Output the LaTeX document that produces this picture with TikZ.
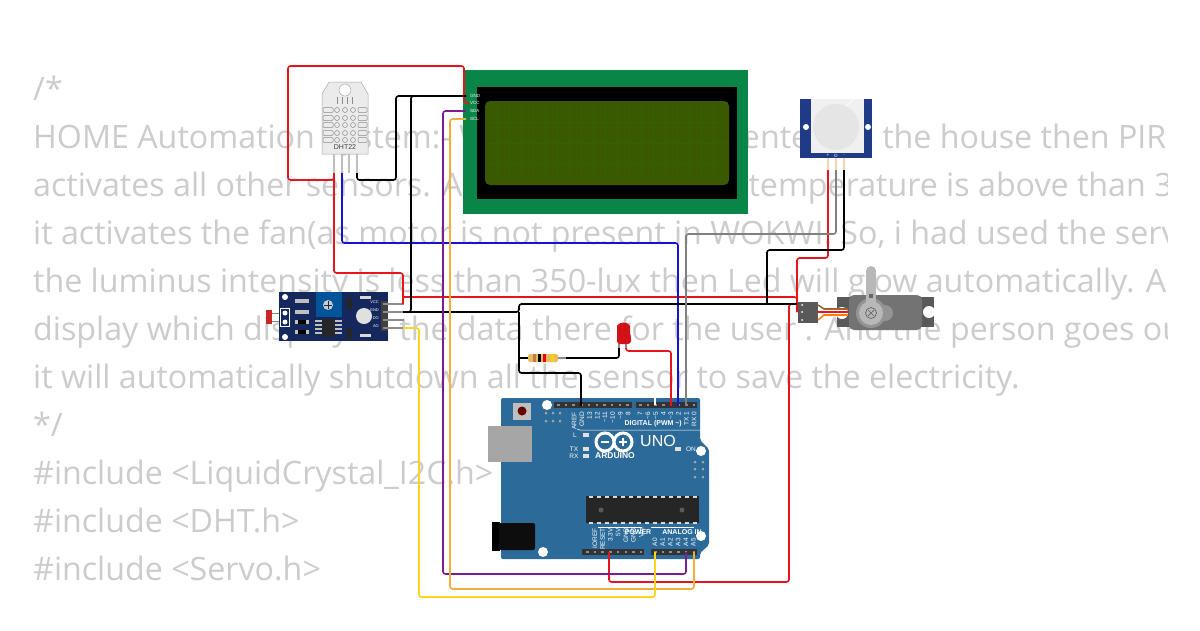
\documentclass[tikz,border=0pt]{standalone}
\usepackage{fontspec}
\setmainfont{Open Sans}
\newfontfamily\boardfont{Liberation Sans}
\definecolor{codegray}{HTML}{CCCCCC}
\definecolor{unoblue}{HTML}{2B6A99}
\definecolor{lcdgreen}{HTML}{0A8548}
\definecolor{lcdlime}{HTML}{3B5A00}
\definecolor{pirblue}{HTML}{1F3A87}
\definecolor{ldrblue}{HTML}{14285E}
\definecolor{wirered}{HTML}{E8141C}
\definecolor{wireblue}{HTML}{1414D0}
\definecolor{wirepurple}{HTML}{7A1E8C}
\definecolor{wireorange}{HTML}{F2AE3A}
\definecolor{wireyellow}{HTML}{FFD420}
\tikzset{
  codeline/.style = {anchor=base west, inner sep=0pt, text=codegray,
    font=\fontsize{32.2}{32.2}\selectfont},
  wire/.style = {line width=1.6pt, rounded corners=2.5pt},
  header/.style = {fill=black!80, draw=none},
  leg/.style = {line width=1.6pt, draw=black!45},
  hole/.style = {circle, fill=white, inner sep=0pt, minimum size=#1},
  boardlabel/.style = {text=white, inner sep=0pt,
    font=\boardfont\fontsize{6.5}{6.5}\selectfont},
  boldlabel/.style = {text=white, inner sep=0pt,
    font=\boardfont\bfseries\fontsize{7}{7}\selectfont},
  tinylabel/.style = {text=white, inner sep=0pt,
    font=\boardfont\fontsize{4.5}{4.5}\selectfont}
}
\begin{document}
\begin{tikzpicture}[x=1pt,y=-1pt]
  \useasboundingbox (0,0) rectangle (1200,630);
  \fill[white] (0,0) rectangle (1200,630);
  \begin{scope}
    \clip (0,0) rectangle (1167,630);
    \node[codeline] (code1) at (33,100) {/*};
    \node[codeline] (code2) at (33,148) {HOME Automation System:- Whenever a person\hspace{-18pt} enters in the house then PIR};
    \node[codeline] (code3) at (33,196) {activates all other sensors. And when the room temperature is above than 3};
    \node[codeline] (code4) at (33,244) {it activates the fan(as motor is not present in WOKWI. So, i had used the serv};
    \node[codeline] (code5) at (33,292) {the luminus intensity is less than 350-lux then Led will glow automatically. A};
    \node[codeline] (code6) at (33,340) {display which display all the data there for the user . And the person goes ou};
    \node[codeline] (code7) at (33,388) {it will automatically shutdown all the sensor to save the electricity.};
    \node[codeline] (code8) at (33,436) {*/};
    \node[codeline] (code9) at (33,484) {\#include <LiquidCrystal\_I2C.h>};
    \node[codeline] (code10) at (33,532) {\#include <DHT.h>};
    \node[codeline] (code11) at (33,580) {\#include <Servo.h>};
  \end{scope}

  % lcd
  \fill[lcdgreen] (463,70) rectangle (748,214);
  \fill[black] (477,87) rectangle (737,199);
  \fill[lcdlime, rounded corners=5pt] (485,101) rectangle (729,185);
  \foreach \gx in {497,509,...,717} \draw[lcdlime!85!lcdgreen, line width=.5pt] (\gx,104) -- (\gx,182);
  \foreach \gy in {122,143,164} \draw[lcdlime!85!lcdgreen, line width=.5pt] (488,\gy) -- (726,\gy);
  \foreach \y/\t in {96/GND,103/VCC,111/SDA,119/SCL}
    \node[tinylabel, anchor=west] (lcd\t) at (470,\y) {\t};

  % dht22
  \foreach \x in {334,342,349,357} \draw[leg, black!25] (\x,154) -- (\x,173);
  \draw[fill=black!8, draw=black!35, line width=.5pt] (322,154) -- (322,94) -- (329,82)
    -- (361,82) -- (368,94) -- (368,154) -- cycle;
  \node[hole=12pt, draw=black!40] (dhthole) at (345,90) {};
  \foreach \x in {337,342,347,352} \draw[black!45, line width=.5pt] (\x,97) -- (\x,104);
  \foreach \y in {110,118,125,133,140} {
    \draw[black!45, line width=.5pt, rounded corners=1pt] (323,\y-2.5) rectangle (333,\y+2.5);
    \draw[black!45, line width=.5pt, rounded corners=1pt] (358,\y-2.5) rectangle (367,\y+2.5);
    \foreach \x in {337,345,353} \draw[black!45, line width=.5pt] (\x,\y) circle (2.5pt);
  }
  \node[inner sep=0pt, text=black!75, font=\boardfont\fontsize{7}{7}\selectfont] (dhtname) at (345,147) {DHT22};

  % pir
  \foreach \x in {828,836,844} \draw[leg, black!15!orange!30] (\x,158) -- (\x,172);
  \fill[pirblue] (800,99) rectangle (872,158);
  \fill[black!6] (811,99) rectangle (864,153);
  \fill[black!10] (836,127) circle (23pt);
  \draw[white, line width=.8pt] (846,106) arc (-60:-15:22pt);
  \node[hole=6pt] (pirhole1) at (806,127) {};
  \node[hole=6pt] (pirhole2) at (868,127) {};
  \foreach \x/\t in {828/+,836/D,844/-}
    \node[tinylabel] (pir\t) at (\x,155.5) {\t};

  % ldr module
  \fill[red!75!black!85] (266,310) rectangle (272,324);
  \draw[black!50, line width=.8pt] (272,313) -- (284,313) (272,321) -- (284,321);
  \fill[ldrblue] (279,292) rectangle (388,341);
  \draw[white, line width=.6pt] (280,308) rectangle (289,326);
  \node[hole=6pt] (ldrhole1) at (285,297) {};
  \node[hole=6pt] (ldrhole2) at (285,337) {};
  \node[hole=5pt] (ldrpin1) at (285,313) {};
  \node[hole=5pt] (ldrpin2) at (285,322) {};
  \foreach \y in {301,312} \fill[black!25] (295,\y-2) rectangle (309,\y+2);
  \foreach \y in {322,332} {\fill[black!25] (295,\y-2) rectangle (298,\y+2); \fill[black!25] (306,\y-2) rectangle (309,\y+2); \fill[black] (298,\y-2) rectangle (306,\y+2);}
  \fill[blue!45!cyan!60!black] (316,292) rectangle (342,317);
  \fill[black!20] (328,305) circle (5pt);
  \draw[ldrblue, line width=1pt] (324,305) -- (332,305) (328,301) -- (328,309);
  \fill[black!85] (322,319) rectangle (335,337);
  \foreach \y in {321,325,329,333} \draw[black!25, line width=1.2pt] (315,\y) -- (322,\y) (335,\y) -- (342,\y);
  \foreach \y in {298,328} \fill[black!85] (347,\y) rectangle (352,\y+11);
  \fill[black!15] (360,296) rectangle (371,299);
  \fill[black!15] (360,334) rectangle (371,337);
  \node[circle, fill=black!12, inner sep=0pt, minimum size=16pt] (ldreye) at (364,316) {};
  \foreach \y/\t in {304/VCC,312/GND,320/DO,328/AO}
    \node[tinylabel, anchor=east, font=\boardfont\fontsize{4}{4}\selectfont] (ldr\t) at (379,\y-2) {\t};
  \fill[black!75] (381,301) rectangle (388,331);
  \foreach \y in {304,312,320,328} \draw[leg] (383,\y) -- (404,\y);

  % servo
  \fill[black!65] (837,297) rectangle (934,327);
  \fill[black!55, rounded corners=5pt] (849,295) rectangle (922,330);
  \node[hole=12pt] (servohole1) at (842,313) {};
  \node[hole=12pt] (servohole2) at (929,312) {};
  \fill[black!42] (871,313) circle (15pt);
  \fill[black!42] (885,313) circle (8pt);
  \draw[black!28, line width=10pt, line cap=round] (871,312) -- (871,271);
  \fill[black!28] (871,313) circle (12pt);
  \draw[black!60, line width=.7pt] (871,313) circle (5.5pt);
  \draw[black!60, line width=.7pt] (868,310) -- (874,316) (868,316) -- (874,310);
  \fill[black!60] (869,294) rectangle (873,298);
  \fill[black!65] (798,302) rectangle (818,323);
  \foreach \y in {305,312,320} \fill[white] (802,\y) circle (1pt);
  \draw[brown!80!black, line width=1.6pt] (818,305) -- (824,309) -- (848,309);
  \draw[wirered, line width=1.6pt] (818,312) -- (848,312);
  \draw[orange, line width=1.6pt] (818,320) -- (824,315) -- (848,315);

  % led
  \draw[leg] (619,342) -- (619,348);
  \draw[leg] (626,342) -- (626,348);
  \fill[wirered!90!black, rounded corners=3pt] (617,344) -- (617,329) arc (180:0:6.5pt) -- (630,334) -- (631,337) -- (631,344) -- cycle;

  % resistor
  \fill[orange!45!yellow!45!brown!70, rounded corners=2pt] (528,354) rectangle (558,362);
  \foreach \x/\c in {533/brown,538/black,543/red,551/yellow!70!orange}
    \fill[\c] (\x,354) rectangle (\x+3,362);

  % uno
  \fill[unoblue, rounded corners=2pt] (501,398) -- (700,398) -- (700,440) -- (709,449)
    -- (709,545) -- (700,553) -- (700,559) -- (501,559) -- cycle;
  \fill[black!35] (488,426) rectangle (532,462);
  \fill[black] (492,522) rectangle (500,551);
  \fill[black!95, rounded corners=2pt] (499,523) rectangle (535,550);
  \fill[black!25] (513,403) rectangle (531,420);
  \fill[black!60!red] (522,411) circle (4.5pt);
  \fill[header] (554,402) rectangle (632,408);
  \fill[header] (636,402) rectangle (697,408);
  \fill[header] (582,549) rectangle (644,555);
  \fill[header] (651,549) rectangle (697,555);
  \foreach \i in {0,...,9} \fill[black!45] (557+7.7*\i,404) rectangle (559.5+7.7*\i,406);
  \foreach \i in {0,...,7} \fill[black!45] (639+7.7*\i,404) rectangle (641.5+7.7*\i,406);
  \foreach \i in {0,...,7} \fill[black!45] (586+7.7*\i,551) rectangle (588.5+7.7*\i,553);
  \foreach \i in {0,...,5} \fill[black!45] (654+7.7*\i,551) rectangle (656.5+7.7*\i,553);
  \node[hole=10pt] (unohole1) at (547,405) {};
  \node[hole=10pt] (unohole2) at (701,451) {};
  \node[hole=10pt] (unohole3) at (543,552) {};
  \node[hole=10pt] (unohole4) at (701,536) {};
  \foreach \x in {546,553,560} \foreach \y in {413,421} \fill[black!35] (\x,\y) circle (1.5pt);
  \foreach \x in {695,703} \foreach \y in {462,469,477} \fill[black!35] (\x,\y) circle (1.5pt);
  \foreach \t [count=\i] in {AREF,GND,13,12,\textasciitilde 11,\textasciitilde 10,\textasciitilde 9,8}
    \node[boardlabel, rotate=90, anchor=east] (dtop\i) at ({566.5+7.7*\i},412) {\t};
  \foreach \t [count=\i] in {7,\textasciitilde 6,\textasciitilde 5,4,\textasciitilde 3,2,TX 1,RX 0}
    \node[boardlabel, rotate=90, anchor=east] (dpin\i) at ({632.5+7.7*\i},412) {\t};
  \node[boldlabel, anchor=east] (digital) at (682,424) {DIGITAL (PWM \textasciitilde)};
  \draw[white, line width=.5pt] (577,429) -- (580,430) -- (702,430);
  \node[boardlabel] (ledl) at (575,435) {L};
  \node[boardlabel] (ledtx) at (574,449) {TX};
  \node[boardlabel] (ledrx) at (574,456) {RX};
  \node[boardlabel] (ledon) at (691,449) {ON};
  \foreach \x/\y in {586/435,586/449,586/456,678/449} \fill[black!12] (\x-3,\y-2) rectangle (\x+3,\y+2);
  \draw[white, line width=3pt] (605,442) circle (9pt) (623,442) circle (9pt);
  \draw[white, line width=1.2pt] (601,442) -- (609,442) (619,442) -- (627,442) (623,438) -- (623,446);
  \node[inner sep=0pt, text=white, font=\boardfont\bfseries\fontsize{8.5}{8.5}\selectfont] (arduino) at (615,456) {ARDUINO};
  \node[inner sep=0pt, text=white, font=\boardfont\fontsize{16}{16}\selectfont] (uno) at (658,441) {UNO};
  \fill[black!85] (586,496) rectangle (699,523);
  \foreach \i in {0,...,13} {
    \fill[black!15] (589+8*\i,495.5) rectangle (593+8*\i,497.5);
    \fill[black!15] (589+8*\i,522) rectangle (593+8*\i,524);
  }
  \fill[black!65] (601,510) circle (2.5pt);
  \fill[black!65] (682,510) circle (2.5pt);
  \foreach \t [count=\i] in {IOREF,RESET,3.3V,5V,GND,GND,Vin}
    \node[boardlabel, rotate=90, anchor=east] (dpow\i) at ({587.3+7.7*\i},528) {\t};
  \foreach \t [count=\i] in {A0,A1,A2,A3,A4,A5}
    \node[boardlabel, rotate=90, anchor=east] (dana\i) at ({647.3+7.7*\i},538) {\t};
  \node[boldlabel] (power) at (638,532) {POWER};
  \node[boldlabel] (analog) at (682,532) {ANALOG IN};
  \draw[white, line width=.5pt] (598,527) -- (642,527) (651,527) -- (694,527);

  \coordinate (lcdgnd) at (466,96);
  \coordinate (lcdvcc) at (466,103);
  \coordinate (lcdsda) at (466,111);
  \coordinate (lcdscl) at (466,119);
  \coordinate (dhtvcc) at (334,173);
  \coordinate (dhtsda) at (342,173);
  \coordinate (dhtgnd) at (357,173);
  \coordinate (pirvcc) at (828,170);
  \coordinate (pirout) at (836,170);
  \coordinate (pirgnd) at (844,170);
  \coordinate (ldrvcc) at (403,304);
  \coordinate (ldrgnd) at (403,312);
  \coordinate (ldrao) at (403,328);
  \coordinate (servogrnd) at (797,304);
  \coordinate (servopwr) at (797,312);
  \coordinate (resleft) at (528,358);
  \coordinate (resright) at (566,358);
  \coordinate (ledcath) at (619,348);
  \coordinate (ledanode) at (626,348);
  \coordinate (unognd) at (581,406);
  \coordinate (unofive) at (655,405);
  \coordinate (unothree) at (671,406);
  \coordinate (unotwo) at (678,406);
  \coordinate (unoone) at (686,406);
  \coordinate (uno33) at (609,552);
  \coordinate (unoaz) at (655,552);
  \coordinate (unoaf) at (686,552);
  \coordinate (unoas) at (694,552);

  \draw[leg] (558,358) -- (resright);
  \draw[wire, white] (unofive) -- (655,398);
  \draw[wire, wirered] (dhtvcc) -- (334,180) -- (288,180) -- (288,66) -- (464,66) -- (464,103) -- (lcdvcc);
  \draw[wire, wirered] (dhtvcc) -- (334,273) -- (403,273) -- (ldrvcc);
  \draw[wire, wirered] (403,297) -- (797,297) -- (servopwr);
  \draw[wire, wirered] (pirvcc) -- (828,258) -- (797,258) -- (servopwr);
  \draw[wire, wirered] (uno33) -- (609,582) -- (789,582) -- (789,304) -- (servogrnd);
  \draw[wire, wireblue] (dhtsda) -- (342,243) -- (678,243) -- (unotwo);
  \draw[wire, black] (dhtgnd) -- (357,180) -- (396,180) -- (396,96) -- (lcdgnd);
  \draw[wire, black] (lcdgnd) -- (411,96) -- (411,312) -- (ldrgnd);
  \draw[wire, black] (ldrgnd) -- (519,312) -- (519,304) -- (servogrnd);
  \draw[wire, black] (519,312) -- (519,373) -- (581,373) -- (unognd);
  \draw[wire, black] (767,304) -- (767,250) -- (844,250) -- (pirgnd);
  \draw[wire, black] (519,358) -- (resleft);
  \draw[wire, black] (resright) -- (619,358) -- (ledcath);
  \draw[wire, wirered] (ledanode) -- (626,351) -- (671,351) -- (unothree);
  \draw[wire, black!50] (pirout) -- (836,234) -- (686,234) -- (unoone);
  \draw[wire, wirepurple] (lcdsda) -- (443,111) -- (443,574) -- (686,574) -- (unoaf);
  \draw[wire, wireorange] (lcdscl) -- (450,119) -- (450,589) -- (694,589) -- (unoas);
  \draw[wire, wireyellow] (ldrao) -- (419,328) -- (419,597) -- (655,597) -- (unoaz);
\end{tikzpicture}
\end{document}
